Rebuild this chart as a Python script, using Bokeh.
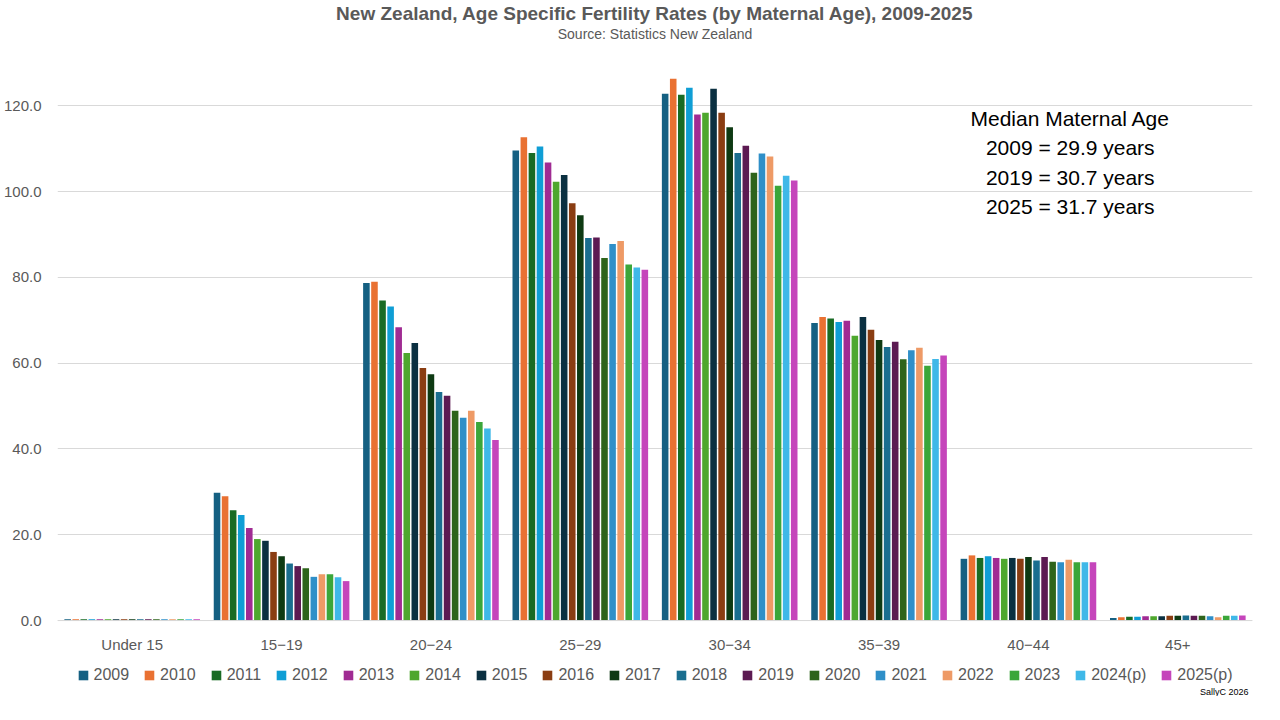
from bokeh.plotting import figure
from bokeh.models import ColumnDataSource, Legend, LegendItem, FactorRange, Label, NumeralTickFormatter, Title, FixedTicker, Span
from bokeh.transform import dodge
from bokeh.core.properties import value
from bokeh.embed import file_html
from bokeh.resources import INLINE

groups = ["Under 15", "15\u221219", "20\u221224", "25\u221229", "30\u221234", "35\u221239", "40\u221244", "45+"]
years = ["2009","2010","2011","2012","2013","2014","2015","2016","2017","2018","2019","2020","2021","2022","2023","2024(p)","2025(p)"]
colors = ["#156082","#E97132","#196B24","#0F9ED5","#A02B93","#4EA72E","#0B3041","#8A3D12","#0E3A13",
          "#1A6E8F","#5C1A52","#2E641B","#2F8FC8","#EE9A66","#3BA63A","#3FB8E8","#C545BB"]

under15 = [0.3]*17
a15_19 = [29.8,29.0,25.7,24.6,21.6,19.0,18.6,16.0,15.0,13.3,12.7,12.2,10.2,10.8,10.8,10.1,9.2]
a20_24 = [78.7,79.0,74.6,73.2,68.4,62.4,64.7,58.9,57.4,53.3,52.4,48.9,47.3,48.9,46.3,44.8,42.1]
a25_29 = [109.6,112.7,109.0,110.5,106.8,102.3,103.9,97.3,94.5,89.2,89.3,84.5,87.8,88.5,83.0,82.3,81.8]
a30_34 = [122.8,126.3,122.6,124.2,118.0,118.4,124.0,118.4,115.0,109.0,110.7,104.4,108.9,108.2,101.4,103.7,102.6]
a35_39 = [69.4,70.8,70.4,69.6,69.9,66.4,70.8,67.8,65.4,63.8,65.0,60.9,63.0,63.6,59.4,61.0,61.8]
a40_44 = [14.4,15.2,14.6,15.0,14.6,14.4,14.6,14.4,14.8,14.0,14.8,13.7,13.6,14.2,13.6,13.6,13.6]
a45p = [0.6,0.8,0.9,0.9,1.0,1.0,1.0,1.1,1.1,1.2,1.1,1.1,1.0,0.8,1.1,1.1,1.2]
series = [under15, a15_19, a20_24, a25_29, a30_34, a35_39, a40_44, a45p]
note = ["Median Maternal Age", "2009 = 29.9 years", "2019 = 30.7 years", "2025 = 31.7 years"]

data = {"g": groups, "ly": [-5.6] * len(groups)}
for i, y in enumerate(years):
    data[y] = [s[i] for s in series]
src = ColumnDataSource(data)

p = figure(x_range=FactorRange(*groups), y_range=(-17.7, 135), frame_width=1195, frame_height=655,
           output_backend="svg", toolbar_location=None, outline_line_color=None,
           min_border_left=10, min_border_right=10, min_border_top=22, min_border_bottom=0,
           border_fill_color="white")
p.add_layout(Title(text="Source: Statistics New Zealand", align="center", text_font_size="14px",
                   text_font_style="normal", text_color="#595959", text_font="Liberation Sans",
                   standoff=0), "above")
p.add_layout(Title(text="New Zealand, Age Specific Fertility Rates (by Maternal Age), 2009-2025", align="center",
                   text_font_size="19px", text_font_style="bold", text_color="#595959", text_font="Liberation Sans",
                   standoff=0), "above")

step = 0.054
items = []
for i, y in enumerate(years):
    r = p.vbar(x=dodge("g", (i - 8) * step, range=p.x_range), top=y, width=0.044, source=src,
               color=colors[i], line_color=None)
    items.append(LegendItem(label=y, renderers=[r]))

p.text(x="g", y="ly", text="g", source=src, text_align="center", text_baseline="middle",
       text_font_size="15px", text_color="#595959", text_font=value("Liberation Sans"))
p.add_layout(Span(location=0, dimension="width", line_color="#D9D9D9", line_width=1))

leg = Legend(items=items, orientation="horizontal", border_line_color=None, background_fill_alpha=0,
             label_text_font_size="16px", label_text_color="#595959", label_text_font="Liberation Sans",
             glyph_width=12, glyph_height=12, spacing=14, label_standoff=5, padding=0, margin=12,
             label_height=16, location="bottom_center")
p.add_layout(leg, "center")

p.xaxis.visible = False
p.yaxis.ticker = FixedTicker(ticks=[0,20,40,60,80,100,120])
p.yaxis.formatter = NumeralTickFormatter(format="0.0")
p.yaxis.major_label_text_font_size = "15px"
p.yaxis.major_label_text_color = "#595959"
p.yaxis.major_label_text_font = "Liberation Sans"
p.yaxis.axis_line_color = None
p.yaxis.major_tick_line_color = None
p.yaxis.minor_tick_line_color = None
p.yaxis.major_label_standoff = 10
p.xgrid.grid_line_color = None
p.ygrid.grid_line_color = "#D9D9D9"

for k, t in enumerate(note):
    p.add_layout(Label(x=6.78, y=117 - 6.8 * k, text=t, text_align="center", text_baseline="middle",
                       text_font_size="21px", text_color="#000000", text_font="Liberation Sans"))
p.add_layout(Label(x=8.0, y=-16.6, text="SallyC 2026", text_align="right", text_baseline="middle",
                   text_font_size="9px", text_color="#000000", x_offset=-4))

open("out.html", "w").write(file_html(p, INLINE))
